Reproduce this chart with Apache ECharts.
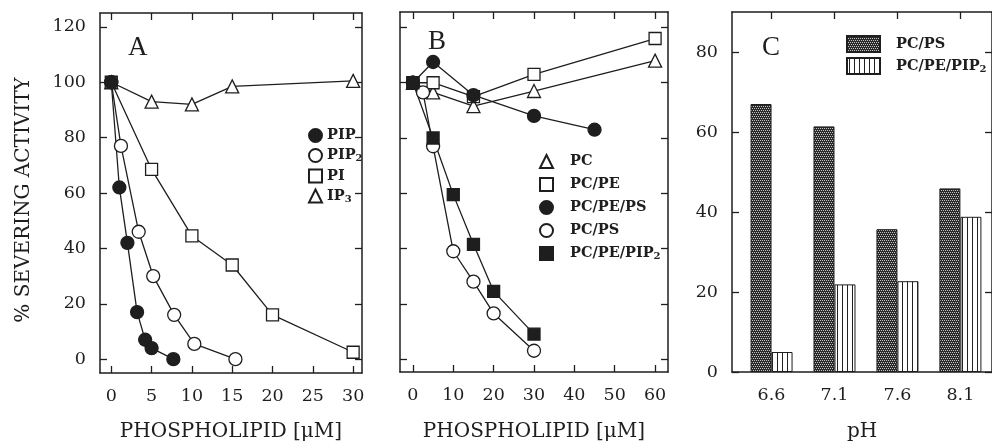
<!DOCTYPE html>
<html lang="en">
<head>
<meta charset="UTF-8">
<title>Severing activity</title>
<script src="https://cdn.jsdelivr.net/npm/echarts@6/dist/echarts.min.js"></script>
<style>
  html, body { margin: 0; padding: 0; background: #fff; }
  #chart { width: 992px; height: 447px; }
</style>
</head>
<body>
<div id="chart"></div>
<script>
// ---- data ----
// panel A: concentration (uM) vs % severing activity
var pipData  = [[0, 100], [1, 62], [2, 42], [3.2, 17], [4.2, 7], [5, 4], [7.7, 0]];
var pip2Data = [[0, 100], [1.2, 77], [3.4, 46], [5.2, 30], [7.8, 16], [10.3, 5.5], [15.4, 0]];
var piData   = [[0, 100], [5, 68.5], [10, 44.5], [15, 34], [20, 16], [30, 2.5]];
var ip3Data  = [[0, 100], [5, 93], [10, 92], [15, 98.5], [30, 100.5]];
// panel B
var pcData      = [[0, 100], [5, 96.5], [15, 91.5], [30, 97], [60, 108]];
var pcpeData    = [[0, 100], [5, 100], [15, 95], [30, 103], [60, 116]];
var pcpepsData  = [[0, 100], [5, 107.5], [15, 95.5], [30, 88], [45, 83]];
var pcpsData    = [[0, 100], [2.5, 96.5], [5, 77], [10, 39], [15, 28], [20, 16.5], [30, 3]];
var pcpepip2Data = [[0, 100], [5, 80], [10, 59.5], [15, 41.5], [20, 24.5], [30, 9]];
// panel C: pH vs activity
var phValues   = [6.6, 7.1, 7.6, 8.1];
var barPcps    = [67, 61.4, 35.7, 45.9];
var barPip2    = [5, 21.9, 22.7, 38.8];
// ticks
var yTicksAB = [0, 20, 40, 60, 80, 100, 120];
var xTicksA  = [0, 5, 10, 15, 20, 25, 30];
var xTicksB  = [0, 10, 20, 30, 40, 50, 60];
var yTicksC  = [0, 20, 40, 60, 80];

var FONT = 'DejaVu Serif';
var INK = '#1e1e1e';

// hatch fills for the bars
function pattern(w, h, draw) {
  var c = document.createElement('canvas');
  c.width = w; c.height = h;
  draw(c.getContext('2d'));
  return { image: c, repeat: 'repeat' };
}
var dotFill = pattern(4, 4, function (g) {
  g.fillStyle = '#2a2a2a'; g.fillRect(0, 0, 4, 4);
  g.fillStyle = '#c4c4c4';
  g.fillRect(0, 0, 1, 1); g.fillRect(2, 0, 1, 1);
  g.fillRect(1, 2, 1, 1); g.fillRect(3, 2, 1, 1);
});
var stripeFill = pattern(5, 2, function (g) {
  g.fillStyle = '#fff'; g.fillRect(0, 0, 5, 2);
  g.fillStyle = '#222'; g.fillRect(2, 0, 1, 2);
});

// trailing digit -> subscript
function subFmt(name) {
  name = name.trim();
  var m = name.match(/^(.*?)(\d)$/);
  return m ? '{b|' + m[1] + '}{s|' + m[2] + '}' : '{b|' + name + '}';
}
var richSub = {
  b: { fontFamily: FONT, fontWeight: 'bold', fontSize: 14.5, color: INK, lineHeight: 16, verticalAlign: 'middle' },
  s: { fontFamily: FONT, fontWeight: 'bold', fontSize: 10, color: INK, lineHeight: 10, verticalAlign: 'bottom' }
};

function axis(grid, min, max, ticks, labels, pos, name, gap, namePad) {
  return {
    type: 'value', gridIndex: grid, min: min, max: max, position: pos,
    axisLine: { onZero: false, lineStyle: { color: INK, width: 1.5 } },
    axisTick: { show: ticks.length > 0, inside: true, length: 7, customValues: ticks, lineStyle: { color: INK, width: 1.3 } },
    axisLabel: { show: labels.length > 0, customValues: labels, margin: 14, fontFamily: FONT, fontSize: 17.5, color: INK },
    splitLine: { show: false },
    name: name || '', nameLocation: 'middle', nameGap: gap || 0,
    nameTextStyle: { fontFamily: FONT, fontSize: 20, color: INK, padding: namePad || 0 }
  };
}

function lineSeries(name, data, x, y, symbol, filled, size) {
  return {
    name: name, type: 'line', data: data, xAxisIndex: x, yAxisIndex: y,
    symbol: symbol, symbolSize: size, showSymbol: true,
    lineStyle: { color: INK, width: 1.3 },
    itemStyle: { color: filled ? INK : '#fff', borderColor: INK, borderWidth: 1.3 },
    emphasis: { disabled: true }, animation: false
  };
}

var letterStyle = { fontFamily: 'Liberation Serif', fontWeight: 'normal', fontSize: 27, color: INK };

var chart = echarts.init(document.getElementById('chart'));
chart.setOption({
  backgroundColor: '#fff',
  animation: false,
  title: [
    { text: 'A', left: 123, top: 29, textStyle: letterStyle },
    { text: 'B', left: 423, top: 23, textStyle: letterStyle },
    { text: 'C', left: 757, top: 29, textStyle: letterStyle }
  ],
  grid: [
    { left: 100, top: 13, width: 262, height: 362 },
    { left: 400, top: 12, width: 268, height: 361 },
    { left: 732, top: 12, width: 263, height: 361 }
  ],
  xAxis: [
    axis(0, -1.4, 31.1, xTicksA, xTicksA, 'bottom', 'PHOSPHOLIPID [μM]', 49),
    axis(0, -1.4, 31.1, xTicksA, [], 'top'),
    axis(1, -3.2, 63.2, xTicksB, xTicksB, 'bottom', 'PHOSPHOLIPID [μM]', 50),
    axis(1, -3.2, 63.2, xTicksB, [], 'top'),
    axis(2, 6.286, 8.351, [], phValues, 'bottom', 'pH', 50),
    axis(2, 6.286, 8.351, phValues, [], 'top')
  ],
  yAxis: [
    axis(0, -5, 125, yTicksAB, yTicksAB, 'left', '% SEVERING ACTIVITY', 66, [0, 14, 0, 0]),
    axis(0, -5, 125, yTicksAB, [], 'right'),
    axis(1, -4.7, 125.6, yTicksAB, [], 'left'),
    axis(1, -4.7, 125.6, yTicksAB, [], 'right'),
    axis(2, 0, 90, yTicksC, yTicksC, 'left'),
    axis(2, 0, 90, yTicksC, [], 'right')
  ],
  legend: [
    {
      orient: 'vertical', left: 308, top: 128, padding: 0, itemWidth: 13, itemHeight: 13, itemGap: 5,
      selectedMode: false, formatter: subFmt, textStyle: { rich: richSub },
      data: [{ name: 'PIP', icon: 'circle' }, { name: 'PIP2', icon: 'circle' },
             { name: 'PI', icon: 'rect' }, { name: 'IP3', icon: 'triangle' }]
    },
    {
      orient: 'vertical', left: 539, top: 154, padding: 0, itemWidth: 13, itemHeight: 13, itemGap: 8,
      selectedMode: false, formatter: subFmt, textStyle: { rich: richSub, padding: [0, 0, 0, 12] },
      data: [{ name: 'PC', icon: 'triangle' }, { name: 'PC/PE', icon: 'rect' },
             { name: 'PC/PE/PS', icon: 'circle' }, { name: 'PC/PS', icon: 'circle' },
             { name: 'PC/PE/PIP2', icon: 'rect' }]
    },
    {
      orient: 'vertical', left: 846, top: 35, padding: 0, itemWidth: 33, itemHeight: 16, itemGap: 4,
      selectedMode: false, formatter: subFmt,
      textStyle: { rich: richSub, padding: [0, 0, 0, 11] },
      data: [{ name: 'PC/PS ', icon: 'rect' }, { name: 'PC/PE/PIP2 ', icon: 'rect' }]
    }
  ],
  series: [
    lineSeries('IP3', ip3Data, 0, 0, 'triangle', false, 13),
    lineSeries('PI', piData, 0, 0, 'rect', false, 12),
    lineSeries('PIP2', pip2Data, 0, 0, 'circle', false, 13),
    lineSeries('PIP', pipData, 0, 0, 'circle', true, 13),

    lineSeries('PC', pcData, 2, 2, 'triangle', false, 13),
    lineSeries('PC/PE', pcpeData, 2, 2, 'rect', false, 12),
    lineSeries('PC/PS', pcpsData, 2, 2, 'circle', false, 13),
    lineSeries('PC/PE/PIP2', pcpepip2Data, 2, 2, 'rect', true, 12),
    lineSeries('PC/PE/PS', pcpepsData, 2, 2, 'circle', true, 13),

    {
      name: 'PC/PS ', type: 'bar', xAxisIndex: 4, yAxisIndex: 4, barWidth: 21, barGap: '0%',
      data: phValues.map(function (p, i) { return [p, barPcps[i]]; }),
      itemStyle: { color: dotFill, borderColor: INK, borderWidth: 1 }
    },
    {
      name: 'PC/PE/PIP2 ', type: 'bar', xAxisIndex: 4, yAxisIndex: 4, barWidth: 21, barGap: '0%',
      data: phValues.map(function (p, i) { return [p, barPip2[i]]; }),
      itemStyle: { color: stripeFill, borderColor: INK, borderWidth: 1 }
    }
  ]
});
</script>
</body>
</html>
